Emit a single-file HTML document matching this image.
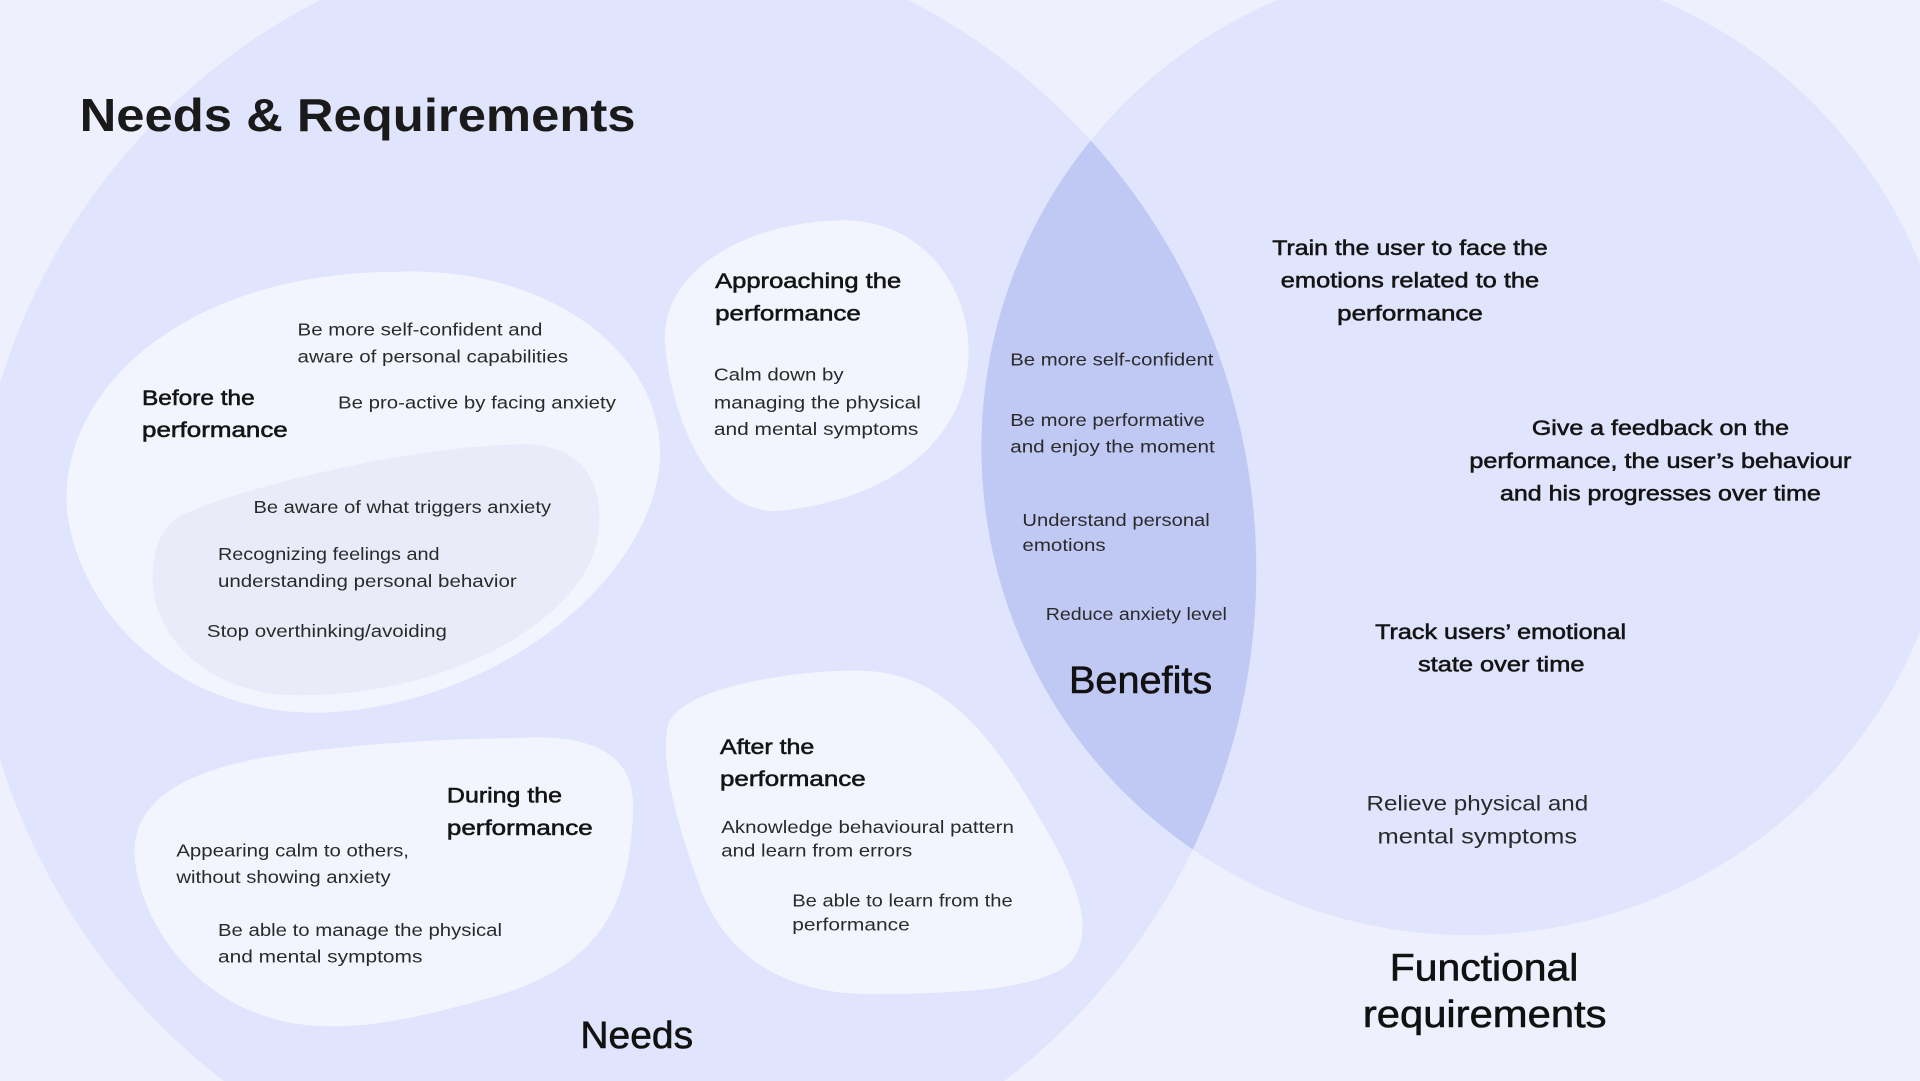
<!DOCTYPE html>
<html>
<head>
<meta charset="utf-8">
<style>
  html,body{margin:0;padding:0;background:#eef0fd;width:1920px;height:1081px;overflow:hidden;}
  svg{display:block;position:absolute;left:0;top:0;overflow:hidden;}
  text{font-family:"Liberation Sans", sans-serif;}
  .b{font-size:14.5px;fill:#2a2a2a;}
  .h{font-size:17.5px;fill:#141414;stroke:#141414;stroke-width:0.45px;}
  .big{font-size:31px;fill:#111;stroke:#111;stroke-width:0.5px;}
  .t{font-size:38px;fill:#1a1a1a;font-weight:bold;}
</style>
</head>
<body>
<svg width="1920" height="1081" viewBox="0 0 1568 883" preserveAspectRatio="none" xmlns="http://www.w3.org/2000/svg">
  <defs>
    <clipPath id="cl"><path d="M 261.37 0 L 741.63 0 A 524.5 524.5 0 0 1 820.03 883 L 182.97 883 A 524.5 524.5 0 0 1 0 619.92 L 0 312.68 A 524.5 524.5 0 0 1 261.37 0 Z"/></clipPath>
  </defs>
  <rect x="0" y="0" width="1568" height="883" fill="#eef0fd"/>
  <!-- Needs circle (clipped to frame) -->
  <path d="M 261.37 0 L 741.63 0 A 524.5 524.5 0 0 1 820.03 883 L 182.97 883 A 524.5 524.5 0 0 1 0 619.92 L 0 312.68 A 524.5 524.5 0 0 1 261.37 0 Z" fill="#e0e4fc"/>
  <!-- Functional requirements circle (clipped to frame) -->
  <path d="M 1042.91 0 L 1356.09 0 A 398 398 0 0 1 1568 215.53 L 1568 516.27 A 398 398 0 1 1 1042.91 0 Z" fill="#e0e4fc"/>
  <!-- Lens -->
  <path d="M 1042.91 0 L 1356.09 0 A 398 398 0 0 1 1568 215.53 L 1568 516.27 A 398 398 0 1 1 1042.91 0 Z" fill="#c0c8f4" clip-path="url(#cl)"/>

  <!-- Before blob -->
  <path d="M 325 222 C 440 218, 535 280, 539 366 C 542 450, 440 560, 290 580 C 170 596, 70 520, 55 420 C 45 320, 150 222, 325 222 Z" fill="#f3f5fe"/>
  <!-- inner blob -->
  <path d="M 150 420 C 220 390, 360 362, 430 363 C 480 364, 495 400, 488 440 C 475 510, 360 570, 240 568 C 160 566, 120 510, 125 465 C 127 440, 135 428, 150 420 Z" fill="#e9ebf9"/>
  <!-- Approaching blob -->
  <path d="M 685 180 C 750 178, 790 230, 791 285 C 792 350, 740 405, 640 417 C 580 424, 548 340, 543 280 C 540 220, 610 182, 685 180 Z" fill="#f3f5fe"/>
  <!-- During blob -->
  <path d="M 420 603 C 490 598, 518 620, 517 660 C 515 740, 490 790, 400 815 C 340 832, 300 840, 260 838 C 170 834, 115 760, 110 700 C 107 650, 160 628, 220 618 C 300 606, 380 603, 420 603 Z" fill="#f3f5fe"/>
  <!-- After blob -->
  <path d="M 706 548 C 770 550, 810 600, 850 670 C 880 720, 895 760, 875 785 C 855 808, 780 812, 710 812 C 640 812, 590 780, 570 720 C 552 670, 540 625, 545 595 C 550 560, 660 546, 706 548 Z" fill="#f3f5fe"/>

  <!-- Title -->
  <text class="t" x="65" y="107" textLength="454" lengthAdjust="spacingAndGlyphs">Needs &amp; Requirements</text>

  <!-- Before -->
  <text class="b" x="243" y="274" textLength="200" lengthAdjust="spacingAndGlyphs">Be more self-confident and</text>
  <text class="b" x="243" y="296" textLength="221" lengthAdjust="spacingAndGlyphs">aware of personal capabilities</text>
  <text class="b" x="276" y="333.5" textLength="227" lengthAdjust="spacingAndGlyphs">Be pro-active by facing anxiety</text>
  <text class="h" x="116" y="331" textLength="92" lengthAdjust="spacingAndGlyphs">Before the</text>
  <text class="h" x="116" y="357" textLength="119" lengthAdjust="spacingAndGlyphs">performance</text>
  <text class="b" x="207" y="419" textLength="243" lengthAdjust="spacingAndGlyphs">Be aware of what triggers anxiety</text>
  <text class="b" x="178" y="457.3" textLength="181" lengthAdjust="spacingAndGlyphs">Recognizing feelings and</text>
  <text class="b" x="178" y="479.6" textLength="244" lengthAdjust="spacingAndGlyphs">understanding personal behavior</text>
  <text class="b" x="169" y="520.5" textLength="196" lengthAdjust="spacingAndGlyphs">Stop overthinking/avoiding</text>

  <!-- Approaching -->
  <text class="h" x="584" y="235.2" textLength="152" lengthAdjust="spacingAndGlyphs">Approaching the</text>
  <text class="h" x="584" y="262" textLength="119" lengthAdjust="spacingAndGlyphs">performance</text>
  <text class="b" x="583" y="311" textLength="106" lengthAdjust="spacingAndGlyphs">Calm down by</text>
  <text class="b" x="583" y="333.7" textLength="169" lengthAdjust="spacingAndGlyphs">managing the physical</text>
  <text class="b" x="583" y="355.3" textLength="167" lengthAdjust="spacingAndGlyphs">and mental symptoms</text>

  <!-- Lens / Benefits -->
  <text class="b" x="825" y="298.5" textLength="166" lengthAdjust="spacingAndGlyphs">Be more self-confident</text>
  <text class="b" x="825" y="347.8" textLength="159" lengthAdjust="spacingAndGlyphs">Be more performative</text>
  <text class="b" x="825" y="369.5" textLength="167" lengthAdjust="spacingAndGlyphs">and enjoy the moment</text>
  <text class="b" x="835" y="429.5" textLength="153" lengthAdjust="spacingAndGlyphs">Understand personal</text>
  <text class="b" x="835" y="450" textLength="68" lengthAdjust="spacingAndGlyphs">emotions</text>
  <text class="b" x="854" y="506.3" textLength="148" lengthAdjust="spacingAndGlyphs">Reduce anxiety level</text>
  <text class="big" x="873" y="566" textLength="117" lengthAdjust="spacingAndGlyphs">Benefits</text>

  <!-- Functional requirements -->
  <text class="h" x="1039" y="208.4" textLength="225" lengthAdjust="spacingAndGlyphs">Train the user to face the</text>
  <text class="h" x="1046" y="235" textLength="211" lengthAdjust="spacingAndGlyphs">emotions related to the</text>
  <text class="h" x="1092" y="262" textLength="119" lengthAdjust="spacingAndGlyphs">performance</text>
  <text class="h" x="1251" y="355.3" textLength="210" lengthAdjust="spacingAndGlyphs">Give a feedback on the</text>
  <text class="h" x="1200" y="382.4" textLength="312" lengthAdjust="spacingAndGlyphs">performance, the user’s behaviour</text>
  <text class="h" x="1225" y="408.9" textLength="262" lengthAdjust="spacingAndGlyphs">and his progresses over time</text>
  <text class="h" x="1123" y="521.8" textLength="205" lengthAdjust="spacingAndGlyphs">Track users’ emotional</text>
  <text class="h" x="1158" y="548.6" textLength="136" lengthAdjust="spacingAndGlyphs">state over time</text>
  <text class="b" style="font-size:17.5px" x="1116" y="662.2" textLength="181" lengthAdjust="spacingAndGlyphs">Relieve physical and</text>
  <text class="b" style="font-size:17.5px" x="1125" y="689" textLength="163" lengthAdjust="spacingAndGlyphs">mental symptoms</text>
  <text class="big" x="1135" y="801" textLength="154" lengthAdjust="spacingAndGlyphs">Functional</text>
  <text class="big" x="1113" y="839" textLength="199" lengthAdjust="spacingAndGlyphs">requirements</text>

  <!-- Needs label -->
  <text class="big" x="474" y="856" textLength="92" lengthAdjust="spacingAndGlyphs">Needs</text>

  <!-- During -->
  <text class="h" x="365" y="655.5" textLength="94" lengthAdjust="spacingAndGlyphs">During the</text>
  <text class="h" x="365" y="682" textLength="119" lengthAdjust="spacingAndGlyphs">performance</text>
  <text class="b" x="144" y="699.6" textLength="190" lengthAdjust="spacingAndGlyphs">Appearing calm to others,</text>
  <text class="b" x="144" y="721.4" textLength="175" lengthAdjust="spacingAndGlyphs">without showing anxiety</text>
  <text class="b" x="178" y="764.4" textLength="232" lengthAdjust="spacingAndGlyphs">Be able to manage the physical</text>
  <text class="b" x="178" y="786.2" textLength="167" lengthAdjust="spacingAndGlyphs">and mental symptoms</text>

  <!-- After -->
  <text class="h" x="588" y="615.8" textLength="77" lengthAdjust="spacingAndGlyphs">After the</text>
  <text class="h" x="588" y="641.9" textLength="119" lengthAdjust="spacingAndGlyphs">performance</text>
  <text class="b" x="589" y="680.5" textLength="239" lengthAdjust="spacingAndGlyphs">Aknowledge behavioural pattern</text>
  <text class="b" x="589" y="699.6" textLength="156" lengthAdjust="spacingAndGlyphs">and learn from errors</text>
  <text class="b" x="647" y="740.5" textLength="180" lengthAdjust="spacingAndGlyphs">Be able to learn from the</text>
  <text class="b" x="647" y="760" textLength="96" lengthAdjust="spacingAndGlyphs">performance</text>
</svg>
</body>
</html>
